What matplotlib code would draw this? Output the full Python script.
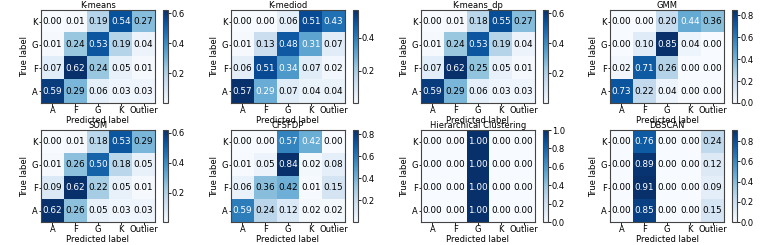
import numpy as np
import matplotlib
matplotlib.use("Agg")
import matplotlib.pyplot as plt
from matplotlib.ticker import MultipleLocator, FormatStrFormatter

true_labels = ["K", "G", "F", "A"]
pred_labels = ["A", "F", "G", "K", "Outlier"]

titles = ["K-means", "K-mediod", "K-means_dp", "GMM",
          "SOM", "CFSFDP", "Hierarchical Clustering", "DBSCAN"]

kmeans = [[0.004, 0.01, 0.19, 0.54, 0.27],
          [0.01, 0.24, 0.53, 0.19, 0.04],
          [0.07, 0.62, 0.24, 0.05, 0.01],
          [0.59, 0.29, 0.06, 0.03, 0.03]]
kmediod = [[0.004, 0.004, 0.06, 0.51, 0.43],
           [0.01, 0.13, 0.48, 0.31, 0.07],
           [0.06, 0.51, 0.34, 0.07, 0.02],
           [0.57, 0.29, 0.07, 0.04, 0.04]]
kmeans_dp = [[0.004, 0.01, 0.18, 0.55, 0.27],
             [0.01, 0.24, 0.53, 0.19, 0.04],
             [0.07, 0.62, 0.25, 0.05, 0.01],
             [0.59, 0.29, 0.06, 0.03, 0.03]]
gmm = [[0.00, 0.00, 0.20, 0.44, 0.36],
       [0.00, 0.10, 0.85, 0.04, 0.00],
       [0.02, 0.71, 0.26, 0.00, 0.00],
       [0.73, 0.22, 0.04, 0.00, 0.00]]
som = [[0.004, 0.01, 0.18, 0.53, 0.29],
       [0.01, 0.26, 0.50, 0.18, 0.05],
       [0.09, 0.62, 0.22, 0.05, 0.01],
       [0.62, 0.26, 0.05, 0.03, 0.03]]
cfsfdp = [[0.004, 0.004, 0.57, 0.424, 0.004],
          [0.01, 0.05, 0.84, 0.02, 0.08],
          [0.06, 0.36, 0.416, 0.01, 0.15],
          [0.59, 0.24, 0.12, 0.02, 0.02]]
hierarchical = [[0.00, 0.00, 1.00, 0.00, 0.00],
                [0.00, 0.00, 1.00, 0.00, 0.00],
                [0.00, 0.00, 1.00, 0.00, 0.00],
                [0.00, 0.00, 1.00, 0.00, 0.00]]
dbscan = [[0.00, 0.76, 0.00, 0.00, 0.24],
          [0.00, 0.89, 0.00, 0.00, 0.12],
          [0.00, 0.91, 0.00, 0.00, 0.09],
          [0.00, 0.85, 0.00, 0.00, 0.15]]

matrices = [kmeans, kmediod, kmeans_dp, gmm, som, cfsfdp, hierarchical, dbscan]

W, H = 761, 245
fig = plt.figure(figsize=(W / 100, H / 100), dpi=100)

lefts = [41, 231, 421, 610]
rows_px = [(10, 103), (130, 222)]
hm_w = 114
cb_off = 122
cb_w = 5
fs = 6
fs_num = 6.4

for i, (title, mat) in enumerate(zip(titles, matrices)):
    r, c = divmod(i, 4)
    top, bot = rows_px[r]
    x0 = lefts[c]
    ax = fig.add_axes([x0 / W, 1 - bot / H, hm_w / W, (bot - top) / H])
    m = np.array(mat)
    im = ax.imshow(m, cmap="Blues", aspect="auto", interpolation="nearest")
    thresh = m.max() / 2.0
    for yi in range(m.shape[0]):
        for xi in range(m.shape[1]):
            v = m[yi, xi]
            ax.text(xi, yi, f"{v:.2f}", ha="center", va="center", fontsize=fs_num,
                    color="white" if v > thresh else "black")
    ax.set_xticks(range(len(pred_labels)))
    ax.set_xticklabels(pred_labels, fontsize=fs)
    ax.set_yticks(range(len(true_labels)))
    ax.set_yticklabels(true_labels, fontsize=fs)
    ax.tick_params(length=1.8, width=0.6, pad=0.6)
    ax.set_title(title, fontsize=fs, pad=1.2)
    ax.set_xlabel("Predicted label", fontsize=fs, labelpad=0.3)
    ax.set_ylabel("True label", fontsize=fs, labelpad=1.5)
    for s in ax.spines.values():
        s.set_linewidth(0.8)
        s.set_edgecolor("#444444")
    cax = fig.add_axes([(x0 + cb_off) / W, 1 - bot / H, cb_w / W, (bot - top) / H])
    cb = fig.colorbar(im, cax=cax)
    cb.locator = MultipleLocator(0.2)
    cb.formatter = FormatStrFormatter("%.1f")
    cb.update_ticks()
    cb.ax.tick_params(labelsize=fs, length=1.8, width=0.6, pad=0.8)
    cb.outline.set_linewidth(0.8)
    cb.outline.set_edgecolor("#444444")

fig.savefig("out.png", dpi=100)
